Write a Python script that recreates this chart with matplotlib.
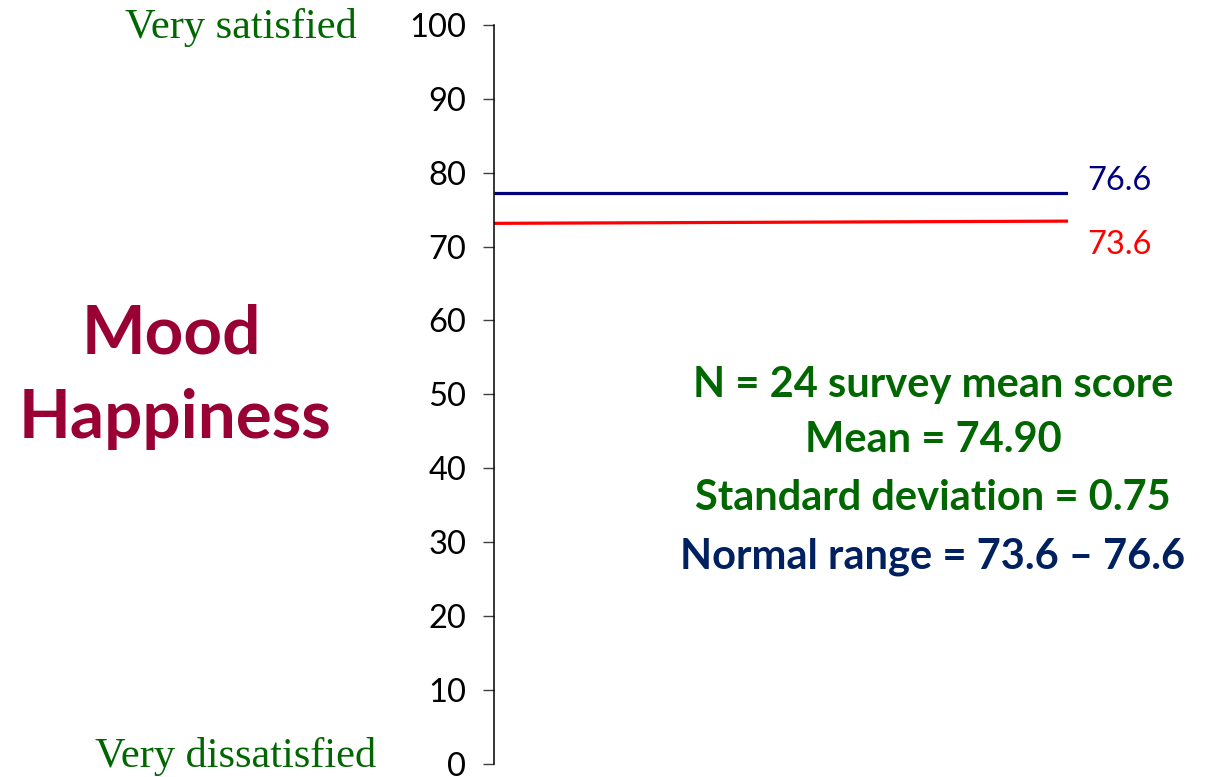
import matplotlib
matplotlib.use('Agg')
from matplotlib import pyplot as plt

# data
x = [0, 1]
upper_line = [77.25, 77.25]
lower_line = [73.15, 73.45]
upper_label = '76.6'
lower_label = '73.6'
y_ticks = [0, 10, 20, 30, 40, 50, 60, 70, 80, 90, 100]
stats_lines = ['N = 24 survey mean score', 'Mean = 74.90',
               'Standard deviation = 0.75', 'Normal range = 73.6 \u2013 76.6']

green = '#006600'
navy = '#000080'
dark_navy = '#002060'
wine = '#990033'

fig = plt.figure(figsize=(12.18, 7.77), dpi=100)
W, H = 1218, 777

# axes placed in pixel terms of the reference
left, right, top, bottom = 494, 1068, 25, 763.7
ax = fig.add_axes([left / W, 1 - bottom / H, (right - left) / W, (bottom - top) / H])

ax.plot(x, upper_line, color=navy, lw=2.3, solid_capstyle='butt')
ax.plot(x, lower_line, color='red', lw=2.3, solid_capstyle='butt')

ax.set_xlim(0, 1)
ax.set_ylim(0, 100)
ax.set_yticks(y_ticks)
ax.set_xticks([])
for s in ['top', 'right', 'bottom']:
    ax.spines[s].set_visible(False)
ax.spines['left'].set_linewidth(1.1)
ax.tick_params(axis='y', length=8, width=1, color='#404040', pad=12,
               labelsize=23.5)
for lab in ax.get_yticklabels():
    lab.set_family('Lato')

# end-of-line labels
ax.text(1.033, upper_line[-1] + 1.6, upper_label, color=navy, fontsize=23.5,
        family='Lato', va='center', ha='left', clip_on=False)
ax.text(1.033, lower_line[-1] - 3.2, lower_label, color='red', fontsize=23.5,
        family='Lato', va='center', ha='left', clip_on=False)

# scale end notes
fig.text(241 / W, 1 - 38 / H, 'Very satisfied', color=green, fontsize=30.5,
         family='Liberation Serif', ha='center', va='baseline')
fig.text(236 / W, 1 - 767 / H, 'Very dissatisfied', color=green, fontsize=30.5,
         family='Liberation Serif', ha='center', va='baseline')

# y title
fig.text(171 / W, 1 - 353 / H, 'Mood', color=wine, fontsize=48.5,
         family='Lato', weight='bold', ha='center', va='baseline')
fig.text(175 / W, 1 - 438 / H, 'Happiness', color=wine, fontsize=48.5,
         family='Lato', weight='bold', ha='center', va='baseline')

# summary block
baselines = [397, 452, 510, 568]
colors = [green, green, green, dark_navy]
for txt, yb, c in zip(stats_lines, baselines, colors):
    fig.text(933 / W, 1 - yb / H, txt, color=c, fontsize=30, family='Lato',
             weight='bold', ha='center', va='baseline')

fig.savefig('out.png', dpi=100)
